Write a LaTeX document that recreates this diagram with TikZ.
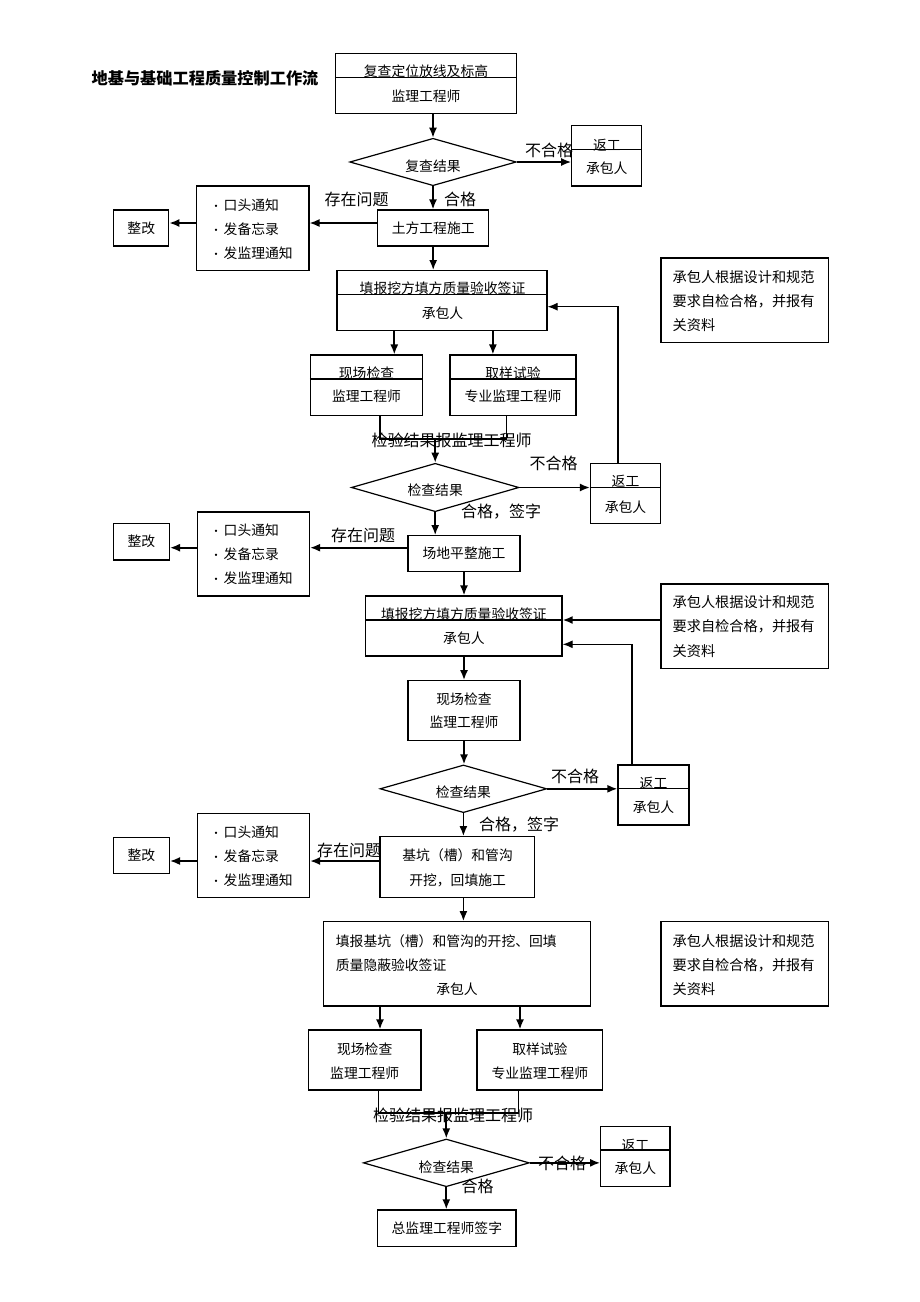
\documentclass[tikz,border=0pt]{standalone}
\usepackage{fontspec}
\setmainfont{Noto Sans CJK SC}
\usetikzlibrary{shapes.geometric,arrows.meta}
\newcommand\bul[1]{\makebox[0pt][r]{\fontsize{11}{11}\selectfont •\hspace{2pt}}#1}
\begin{document}
\begin{tikzpicture}[x=1pt,y=-1pt,
  bx/.style={draw, line width=1.2pt, inner sep=0pt, font=\fontsize{13.8}{16}\selectfont},
  dm/.style={draw, diamond, line width=1.2pt, inner sep=0pt},
  tx/.style={inner sep=0pt, font=\fontsize{13.8}{16}\selectfont},
  lst/.style={inner sep=0pt, anchor=west, align=left, font=\fontsize{13.8}{24}\selectfont},
  nt/.style={inner sep=0pt, anchor=west, align=left, font=\fontsize{14.2}{24.2}\selectfont},
  lb/.style={inner sep=0pt, font=\fontsize{16}{18}\selectfont},
  tt/.style={inner sep=0pt, font=\fontsize{16.2}{18}\selectfont\bfseries},
  ln/.style={line width=1.2pt},
  arr/.style={line width=1.7pt, -{Latex[length=10pt,width=8pt]}},
  rarr/.style={line width=1.2pt, -{Latex[length=10pt,width=8pt]}}]
\fill[white] (0,0) rectangle (920,1302);
\useasboundingbox (0,0) rectangle (920,1302);

\node[tt] (title) at (205,78) {地基与基础工程质量控制工作流};

% ---------- block 1 ----------
\node[bx, minimum width=181, minimum height=60] (b1) at (426,83.3) {};
\draw[ln] ([yshift=6pt]b1.west) -- ([yshift=6pt]b1.east);
\node[tx] (b1a) at (426,71.7) {复查定位放线及标高};
\node[tx] (b1b) at (426,96.7) {监理工程师};

\node[dm, minimum width=166.5, minimum height=47.4] (d1) at (433,162) {};
\node[tx] (d1t) at (433,166) {复查结果};
\draw[arr] (b1.south -| d1.north) -- (d1.north);

\node[bx, minimum width=70, minimum height=60.3] (r1) at (606.8,155.85) {};
\draw[ln] ([yshift=6.55pt]r1.west) -- ([yshift=6.55pt]r1.east);
\node[tx] (r1a) at (606.8,145) {返工};
\node[tx] (r1b) at (606.8,168) {承包人};
\draw[arr] (d1.east) -- (d1.east -| r1.west);
\node[lb] (l1) at (549,150) {不合格};

\node[bx, minimum width=111, minimum height=36] (t1) at (433.2,228) {土方工程施工};
\draw[arr] (d1.south) -- (d1.south |- t1.north);
\node[lb] (l2) at (460,199) {合格};
\node[lb] (l3) at (356.5,199) {存在问题};

\node[bx, minimum width=112.2, minimum height=84.7] (p1) at (252.8,228.35) {};
\node[lst] (p1t) at (223.5,229) {\bul{口头通知}\\\bul{发备忘录}\\\bul{发监理通知}};
\node[bx, minimum width=55, minimum height=36] (z1) at (141.25,228) {整改};
\coordinate (a1) at ([yshift=5pt]t1.west);
\draw[arr] (a1) -- (a1 -| p1.east);
\draw[arr] (a1 -| p1.west) -- (a1 -| z1.east);

\node[bx, minimum width=210, minimum height=60] (f1) at (442,300.7) {};
\draw[ln] ([yshift=6.4pt]f1.west) -- ([yshift=6.4pt]f1.east);
\node[tx] (f1a) at (442.5,288.3) {填报挖方填方质量验收签证};
\node[tx] (f1b) at (442.5,313.3) {承包人};
\draw[arr] (t1.south) -- (t1.south |- f1.north);

\node[bx, minimum width=167.6, minimum height=84.7] (n1) at (744.8,300.35) {};
\node[nt] (n1t) at (672.4,301) {承包人根据设计和规范\\要求自检合格，并报有\\关资料};

\node[bx, minimum width=112, minimum height=60.3] (x2) at (366.5,385.2) {};
\draw[ln] ([yshift=6.2pt]x2.west) -- ([yshift=6.2pt]x2.east);
\node[tx] (x2a) at (366.5,373.3) {现场检查};
\node[tx] (x2b) at (366.5,396.7) {监理工程师};
\node[bx, minimum width=126, minimum height=60.3] (s2) at (513,385.2) {};
\draw[ln] ([yshift=6.2pt]s2.west) -- ([yshift=6.2pt]s2.east);
\node[tx] (s2a) at (513,373.3) {取样试验};
\node[tx] (s2b) at (513,396.7) {专业监理工程师};
\coordinate (c394) at (394.3,0);
\coordinate (c493) at (492.9,0);
\draw[arr] (f1.south -| c394) -- (x2.north -| c394);
\draw[arr] (f1.south -| c493) -- (s2.north -| c493);

\node[dm, minimum width=167.6, minimum height=48.4] (d2) at (435.2,487.5) {};
\node[tx] (d2t) at (435.2,490) {检查结果};
\coordinate (cx380) at (380,439);
\coordinate (cx506) at (506.2,439);
\draw[ln] (x2.south -| cx380) -- (cx380) -- (cx506) -- (s2.south -| cx506);
\coordinate (j2) at (cx380 -| d2.north);
\draw[arr] (j2) -- (d2.north);
\node[lb] (v2) at (451.5,440) {检验结果报监理工程师};

\node[bx, minimum width=70, minimum height=60] (r2) at (625.5,493.3) {};
\draw[ln] ([yshift=5.6pt]r2.west) -- ([yshift=5.6pt]r2.east);
\node[tx] (r2a) at (625.5,481.7) {返工};
\node[tx] (r2b) at (625.5,506.7) {承包人};
\draw[arr] (d2.east) -- (d2.east -| r2.west);
\node[lb] (l4) at (553.5,463.3) {不合格};
\coordinate (rt2) at (618,306.7);
\draw[rarr] (r2.north -| rt2) -- (rt2) -- (rt2 -| f1.east);
\node[lb] (l5) at (501,511.7) {合格，签字};

% ---------- block 2 ----------
\node[bx, minimum width=112, minimum height=36] (g2) at (464,553.7) {场地平整施工};
\draw[arr] (d2.south) -- (d2.south |- g2.north);
\node[bx, minimum width=112, minimum height=84] (p2) at (253.5,554) {};
\node[lst] (p2t) at (223.5,554.5) {\bul{口头通知}\\\bul{发备忘录}\\\bul{发监理通知}};
\node[bx, minimum width=56, minimum height=36.7] (z2) at (141.4,541.7) {整改};
\coordinate (a2) at ([yshift=6pt]g2.west);
\draw[arr] (a2) -- (a2 -| p2.east);
\draw[arr] (a2 -| p2.west) -- (a2 -| z2.east);
\node[lb] (l6) at (363,535) {存在问题};

\node[bx, minimum width=196.3, minimum height=60] (f2) at (463.9,626) {};
\draw[ln] ([yshift=6pt]f2.west) -- ([yshift=6pt]f2.east);
\node[tx] (f2a) at (463.9,614.3) {填报挖方填方质量验收签证};
\node[tx] (f2b) at (463.9,638.3) {承包人};
\draw[arr] (g2.south) -- (g2.south |- f2.north);

\node[bx, minimum width=167.6, minimum height=84.3] (n2) at (744.8,626.2) {};
\node[nt] (n2t) at (672.4,626.5) {承包人根据设计和规范\\要求自检合格，并报有\\关资料};
\coordinate (an2) at ([yshift=6.2pt]n2.west);
\draw[arr] (an2) -- (an2 -| f2.east);

\node[bx, minimum width=112, minimum height=60] (x3) at (464,710.7) {};
\node[tx] (x3a) at (464,699) {现场检查};
\node[tx] (x3b) at (464,722.7) {监理工程师};
\draw[arr] (f2.south -| x3.north) -- (x3.north);

\node[dm, minimum width=166.7, minimum height=47.7] (d3) at (463.4,788.8) {};
\node[tx] (d3t) at (463.4,791.7) {检查结果};
\draw[arr] (x3.south) -- (x3.south |- d3.north);

\node[bx, minimum width=71, minimum height=60] (r3) at (653.5,795) {};
\draw[ln] ([yshift=6.7pt]r3.west) -- ([yshift=6.7pt]r3.east);
\node[tx] (r3a) at (653.5,783.3) {返工};
\node[tx] (r3b) at (653.5,806.7) {承包人};
\draw[arr] (d3.east) -- (d3.east -| r3.west);
\node[lb] (l7) at (575,776.7) {不合格};
\coordinate (rt3) at (632,644.3);
\draw[rarr] (r3.north -| rt3) -- (rt3) -- (rt3 -| f2.east);
\node[lb] (l8) at (519,825) {合格，签字};

% ---------- block 3 ----------
\node[bx, minimum width=154.3, minimum height=60.6] (k3) at (457.2,867) {};
\node[tx] (k3a) at (457.6,855.7) {基坑（槽）和管沟};
\node[tx] (k3b) at (457.6,880) {开挖，回填施工};
\draw[arr] (d3.south) -- (d3.south |- k3.north);
\node[bx, minimum width=112, minimum height=84] (p3) at (253.5,855.3) {};
\node[lst] (p3t) at (223.5,856) {\bul{口头通知}\\\bul{发备忘录}\\\bul{发监理通知}};
\node[bx, minimum width=56, minimum height=36] (z3) at (141.4,855.3) {整改};
\coordinate (a3) at ([yshift=6pt]k3.west);
\draw[arr] (a3) -- (a3 -| p3.east);
\draw[arr] (a3 -| p3.west) -- (a3 -| z3.east);
\node[lb] (l9) at (349,850) {存在问题};

\node[bx, minimum width=266.7, minimum height=84.3] (f3) at (457.2,963.9) {};
\node[tx, anchor=west] (f3a) at (335.7,941) {填报基坑（槽）和管沟的开挖、回填};
\node[tx, anchor=west] (f3b) at (335.7,965) {质量隐蔽验收签证};
\node[tx] (f3c) at (457,989) {承包人};
\draw[arr] (k3.south -| d3.south) -- (f3.north -| d3.south);

\node[bx, minimum width=167.6, minimum height=84.3] (n3) at (744.8,963.9) {};
\node[nt] (n3t) at (672.4,965) {承包人根据设计和规范\\要求自检合格，并报有\\关资料};

\node[bx, minimum width=112.5, minimum height=60] (x4) at (364.7,1060) {};
\node[tx] (x4a) at (364.7,1049.3) {现场检查};
\node[tx] (x4b) at (364.7,1073.3) {监理工程师};
\node[bx, minimum width=125.7, minimum height=60] (s4) at (539.9,1060) {};
\node[tx] (s4a) at (539.9,1049.3) {取样试验};
\node[tx] (s4b) at (539.9,1073.3) {专业监理工程师};
\coordinate (c380) at (380,0);
\coordinate (c520) at (520,0);
\draw[arr] (f3.south -| c380) -- (x4.north -| c380);
\draw[arr] (f3.south -| c520) -- (s4.north -| c520);

\node[dm, minimum width=166, minimum height=47.7] (d4) at (446.3,1162.85) {};
\node[tx] (d4t) at (446.3,1167) {检查结果};
\coordinate (cy378) at (378.5,1113);
\coordinate (cy518) at (518.5,1113);
\draw[ln] (x4.south -| cy378) -- (cy378) -- (cy518) -- (s4.south -| cy518);
\coordinate (j4) at (cy378 -| d4.north);
\draw[arr] (j4) -- (d4.north);
\node[lb] (v4) at (453,1115) {检验结果报监理工程师};

\node[bx, minimum width=69.3, minimum height=60] (r4) at (635.35,1156.7) {};
\draw[ln] ([yshift=6.7pt]r4.west) -- ([yshift=6.7pt]r4.east);
\node[tx] (r4a) at (635.35,1145) {返工};
\node[tx] (r4b) at (635.35,1168.3) {承包人};
\draw[arr] (d4.east) -- (d4.east -| r4.west);
\node[lb] (l10) at (562,1163) {不合格};
\node[lb] (l11) at (477.7,1186.7) {合格};

\node[bx, minimum width=138.3, minimum height=36.7] (zj) at (446.85,1228.3) {总监理工程师签字};
\draw[arr] (d4.south) -- (d4.south |- zj.north);
\end{tikzpicture}
\end{document}
